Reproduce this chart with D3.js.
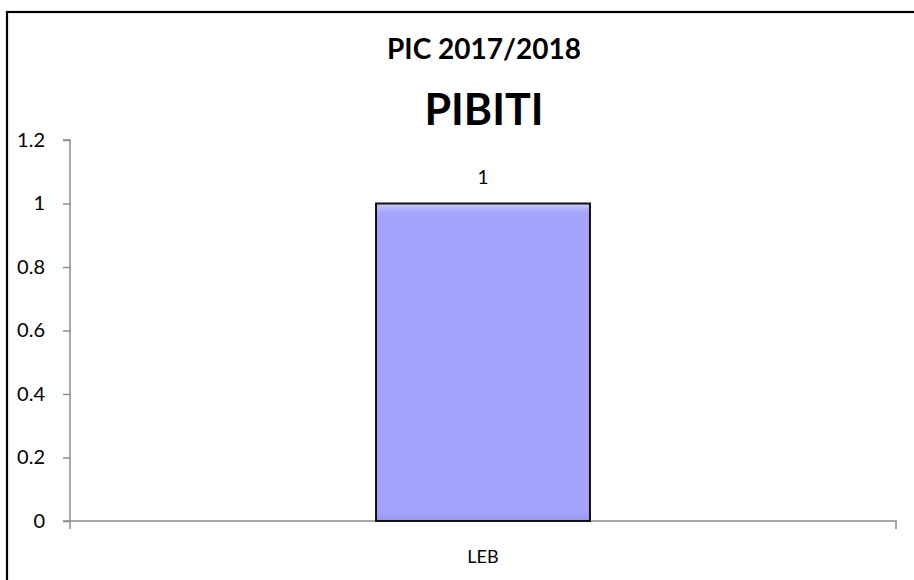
<!DOCTYPE html>
<html><head><meta charset="utf-8">
<script src="https://cdn.jsdelivr.net/npm/d3@7/dist/d3.min.js"></script>
<style>body{margin:0;background:#fff}svg{display:block}</style>
</head><body>
<svg id="c" width="914" height="580"></svg>
<script>
const categories = ["LEB"];
const values = [1];
const yTicks = [0, 0.2, 0.4, 0.6, 0.8, 1, 1.2];
const yTickLabels = ["0", "0.2", "0.4", "0.6", "0.8", "1", "1.2"];
const titleLine1 = "PIC 2017/2018";
const titleLine2 = "PIBITI";

(function () {
const svg = d3.select("#c");
const font = "Lato, 'Open Sans', sans-serif";

// outer frame
svg.append("rect").attr("x", 7).attr("y", 12).attr("width", 920).attr("height", 600)
  .attr("fill", "#fff").attr("stroke", "#000").attr("stroke-width", 2.2);

const pL = 70, pR = 896, pT = 140, pB = 521;
const x = d3.scaleBand().domain(categories).range([pL, pR]).paddingInner(0).paddingOuter(0);
const y = d3.scaleLinear().domain([0, 1.2]).range([pB, pT]);

const defs = svg.append("defs");
const g1 = defs.append("linearGradient").attr("id", "gt").attr("x1", 0).attr("y1", 0).attr("x2", 0).attr("y2", 1);
g1.append("stop").attr("offset", 0).attr("stop-color", "#c9c9ff");
g1.append("stop").attr("offset", 0.03).attr("stop-color", "#a4a4fe");
g1.append("stop").attr("offset", 0.97).attr("stop-color", "#a4a4fe");
g1.append("stop").attr("offset", 1).attr("stop-color", "#9797ee");

// y axis
const yAxis = d3.axisLeft(y).tickValues(yTicks).tickFormat((d, i) => yTickLabels[i]).tickSize(7).tickPadding(18);
const ya = svg.append("g").attr("transform", `translate(${pL},0)`).call(yAxis);
ya.selectAll("path,line").attr("stroke", "#8c8c8c").attr("stroke-width", 1.5);
ya.select(".domain").attr("d", `M-7,${pT}H0V${pB}`);
ya.selectAll("text").attr("font-family", font).attr("font-size", 20).attr("fill", "#000");

// x axis
const xa = svg.append("g").attr("transform", `translate(0,${pB})`);
xa.append("path").attr("d", `M${pL - 7},0H${pR}V8`).attr("fill", "none").attr("stroke", "#8c8c8c").attr("stroke-width", 1.5);
xa.append("line").attr("x1", pL).attr("x2", pL).attr("y1", 0).attr("y2", 8).attr("stroke", "#8c8c8c").attr("stroke-width", 1.5);
xa.selectAll("text.cat").data(categories).join("text").attr("class", "cat")
  .attr("x", d => x(d) + x.bandwidth() / 2).attr("y", 42)
  .attr("text-anchor", "middle").attr("font-family", font).attr("font-size", 18).text(d => d);

// bars
const bw = x.bandwidth() * 0.259;
svg.selectAll("rect.bar").data(values).join("rect").attr("class", "bar")
  .attr("x", (d, i) => x(categories[i]) + x.bandwidth() / 2 - bw / 2)
  .attr("y", d => y(d)).attr("width", bw).attr("height", d => y(0) - y(d))
  .attr("fill", "url(#gt)").attr("stroke", "#111").attr("stroke-width", 2);

// value labels
svg.selectAll("text.val").data(values).join("text").attr("class", "val")
  .attr("x", (d, i) => x(categories[i]) + x.bandwidth() / 2).attr("y", d => y(d) - 20)
  .attr("text-anchor", "middle").attr("font-family", font).attr("font-size", 19).text(d => d);

// titles
svg.append("text").attr("x", 484).attr("y", 59).attr("text-anchor", "middle")
  .attr("font-family", font).attr("font-weight", "bold").attr("font-size", 28).text(titleLine1);
svg.append("text").attr("x", 484).attr("y", 125).attr("text-anchor", "middle")
  .attr("font-family", font).attr("font-weight", "bold").attr("font-size", 43).text(titleLine2);
})();
</script>
</body></html>
